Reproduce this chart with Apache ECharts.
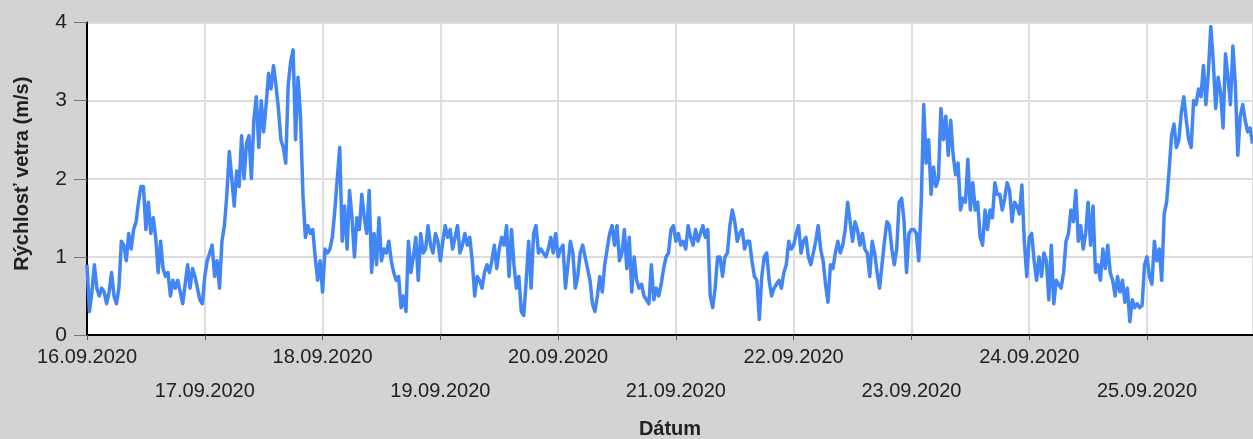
<!DOCTYPE html>
<html>
<head>
<meta charset="utf-8">
<script src="https://cdn.jsdelivr.net/npm/echarts@6/dist/echarts.min.js"></script>
<style>
  html, body { margin: 0; padding: 0; background: #d3d3d3; }
  #windChart { width: 1253px; height: 439px; }
</style>
</head>
<body>
<div id="windChart"></div>
<script>
// rychlost vetra (m/s), po 30 min od 16.09.2020 00:00
const day16 = [0.9,0.3,0.55,0.9,0.6,0.5,0.6,0.55,0.4,0.55,0.8,0.5,0.4,0.6,1.2,1.15,0.95,1.3,1.1,1.35,1.45,1.7,1.9,1.9,
  1.35,1.7,1.3,1.5,1.25,0.8,1.2,0.85,0.75,0.8,0.5,0.7,0.6,0.7,0.55,0.4,0.65,0.9,0.6,0.85,0.75,0.6,0.45,0.4];
const day17 = [0.75,0.95,1.05,1.15,0.75,0.95,0.6,1.2,1.4,1.8,2.35,2.0,1.65,2.1,1.9,2.55,2.0,2.45,2.55,2.0,2.75,3.05,2.4,3.0,
  2.6,2.95,3.35,3.15,3.45,3.2,2.9,2.5,2.4,2.2,3.2,3.5,3.65,2.5,3.3,2.8,1.8,1.25,1.4,1.3,1.35,1.0,0.7,0.95];
const day18 = [0.55,1.1,1.05,1.1,1.25,1.6,2.0,2.4,1.2,1.65,1.1,1.85,1.5,1.0,1.5,1.35,1.8,1.5,1.3,1.85,0.8,1.3,0.9,1.5,
  0.95,1.1,1.05,1.2,0.95,0.8,0.7,0.75,0.35,0.5,0.3,1.2,0.8,1.0,1.25,0.7,1.3,1.05,1.1,1.4,1.15,1.05,1.3,1.2];
const day19 = [0.95,1.2,1.4,1.25,1.35,1.1,1.25,1.4,1.05,1.15,1.3,1.15,1.25,0.95,0.5,0.75,0.7,0.6,0.8,0.9,0.8,0.95,1.15,0.85,
  1.1,1.25,1.15,1.4,0.75,1.35,0.9,0.6,0.75,0.3,0.25,0.7,1.2,0.6,1.3,1.4,1.05,1.1,1.05,1.0,1.1,1.25,1.05,1.3];
const day20 = [1.0,1.1,1.15,0.6,0.9,1.2,1.05,0.6,0.75,1.05,1.15,1.0,0.85,0.7,0.4,0.3,0.5,0.75,0.55,0.9,1.1,1.3,1.4,1.15,
  1.4,0.95,1.05,1.35,0.85,1.25,0.55,1.0,0.7,0.6,0.65,0.5,0.45,0.4,0.9,0.45,0.6,0.5,0.65,0.85,1.0,1.05,1.35,1.4];
const day21 = [1.2,1.3,1.15,1.2,1.1,1.4,1.25,1.15,1.35,1.2,1.3,1.4,1.25,1.35,0.5,0.35,0.6,1.0,1.0,0.75,1.0,1.05,1.4,1.6,
  1.45,1.2,1.3,1.35,1.1,1.2,1.2,0.95,0.75,0.7,0.2,0.75,1.0,1.05,0.7,0.5,0.6,0.65,0.7,0.6,0.8,0.9,1.2,1.1];
const day22 = [1.15,1.3,1.4,1.05,1.2,1.25,1.0,0.9,1.05,1.2,1.4,1.1,0.95,0.65,0.42,0.9,0.85,1.05,1.2,1.05,1.15,1.35,1.7,1.45,
  1.2,1.45,1.35,1.15,1.3,1.1,1.05,0.75,1.2,1.05,0.8,0.6,0.9,1.2,1.45,1.4,1.1,0.9,1.1,1.7,1.75,1.45,0.8,1.3];
const day23 = [1.35,1.35,1.3,0.95,1.7,2.95,2.2,2.5,1.8,2.15,1.9,2.0,2.9,2.5,2.8,2.3,2.75,2.3,2.05,2.2,1.6,1.75,1.7,2.25,
  1.6,1.95,1.6,1.7,1.25,1.15,1.6,1.35,1.6,1.5,1.95,1.8,1.8,1.6,1.75,1.95,1.85,1.45,1.7,1.65,1.55,1.92,1.2,0.75];
const day24 = [1.25,1.3,0.95,0.7,1.0,0.75,1.05,0.95,0.45,1.15,0.4,0.7,0.65,0.6,0.8,1.2,1.3,1.6,1.45,1.85,1.2,1.4,1.1,1.3,
  1.7,1.15,1.65,0.8,0.9,0.7,1.1,0.85,1.15,0.8,0.7,0.5,0.75,0.55,0.7,0.42,0.6,0.17,0.45,0.35,0.4,0.35,0.38,0.9];
const day25 = [1.0,0.75,0.65,1.2,0.95,1.1,0.7,1.55,1.7,2.1,2.55,2.7,2.4,2.5,2.85,3.05,2.75,2.5,2.4,3.0,2.95,3.15,3.05,3.45,
  2.95,3.35,3.95,3.5,2.9,3.3,3.1,2.65,3.6,3.3,2.95,3.7,3.2,2.3,2.8,2.95,2.75,2.6,2.65,2.45];

const dayLabels = ['16.09.2020','17.09.2020','18.09.2020','19.09.2020','20.09.2020',
  '21.09.2020','22.09.2020','23.09.2020','24.09.2020','25.09.2020'];
const stepHours = 0.5;
const endHours = 237.6;

const windSpeed = [].concat(day16, day17, day18, day19, day20, day21, day22, day23, day24, day25);
const seriesData = windSpeed.map((v, i) => [i * stepHours, v]);

const font = 'Liberation Sans, Arial, sans-serif';
const myChart = echarts.init(document.getElementById('windChart'));
myChart.setOption({
  backgroundColor: '#d3d3d3',
  animation: false,
  grid: {
    left: 87,
    right: 0,
    top: 22.5,
    bottom: 104,
    show: true,
    backgroundColor: '#ffffff',
    borderWidth: 0,
    outerBoundsMode: 'none'
  },
  xAxis: {
    type: 'value',
    min: 0,
    max: endHours,
    interval: 24,
    name: 'Dátum',
    nameLocation: 'middle',
    nameGap: 84,
    nameTextStyle: { fontFamily: font, fontSize: 20, fontWeight: 'bold', color: '#222' },
    axisLine: { lineStyle: { color: '#000', width: 2 } },
    axisTick: { length: 5, lineStyle: { color: '#555' } },
    splitLine: { lineStyle: { color: '#dcdcdc', width: 2 } },
    axisLabel: {
      fontFamily: font,
      fontSize: 20,
      color: '#222',
      lineHeight: 34,
      margin: 5,
      showMaxLabel: false,
      formatter: function (v) {
        if (v % 24 !== 0) return '';
        const d = Math.round(v / 24);
        const s = dayLabels[d] || '';
        return d % 2 ? '\n' + s : s;
      }
    }
  },
  yAxis: {
    type: 'value',
    min: 0,
    max: 4,
    interval: 1,
    name: 'Rýchlosť vetra (m/s)',
    nameLocation: 'middle',
    nameGap: 55,
    nameTextStyle: { fontFamily: font, fontSize: 20, fontWeight: 'bold', color: '#222', padding: [0, 0, 0, 10] },
    axisLine: { show: true, lineStyle: { color: '#000', width: 2 } },
    axisTick: { show: true, length: 13, lineStyle: { color: '#777' } },
    splitLine: { lineStyle: { color: '#dcdcdc', width: 2 } },
    axisLabel: { fontFamily: font, fontSize: 21, color: '#222', margin: 20 }
  },
  series: [{
    type: 'line',
    data: seriesData,
    showSymbol: false,
    symbol: 'none',
    lineStyle: { color: '#4285f4', width: 3.5, join: 'round' }
  }]
});
</script>
</body>
</html>
